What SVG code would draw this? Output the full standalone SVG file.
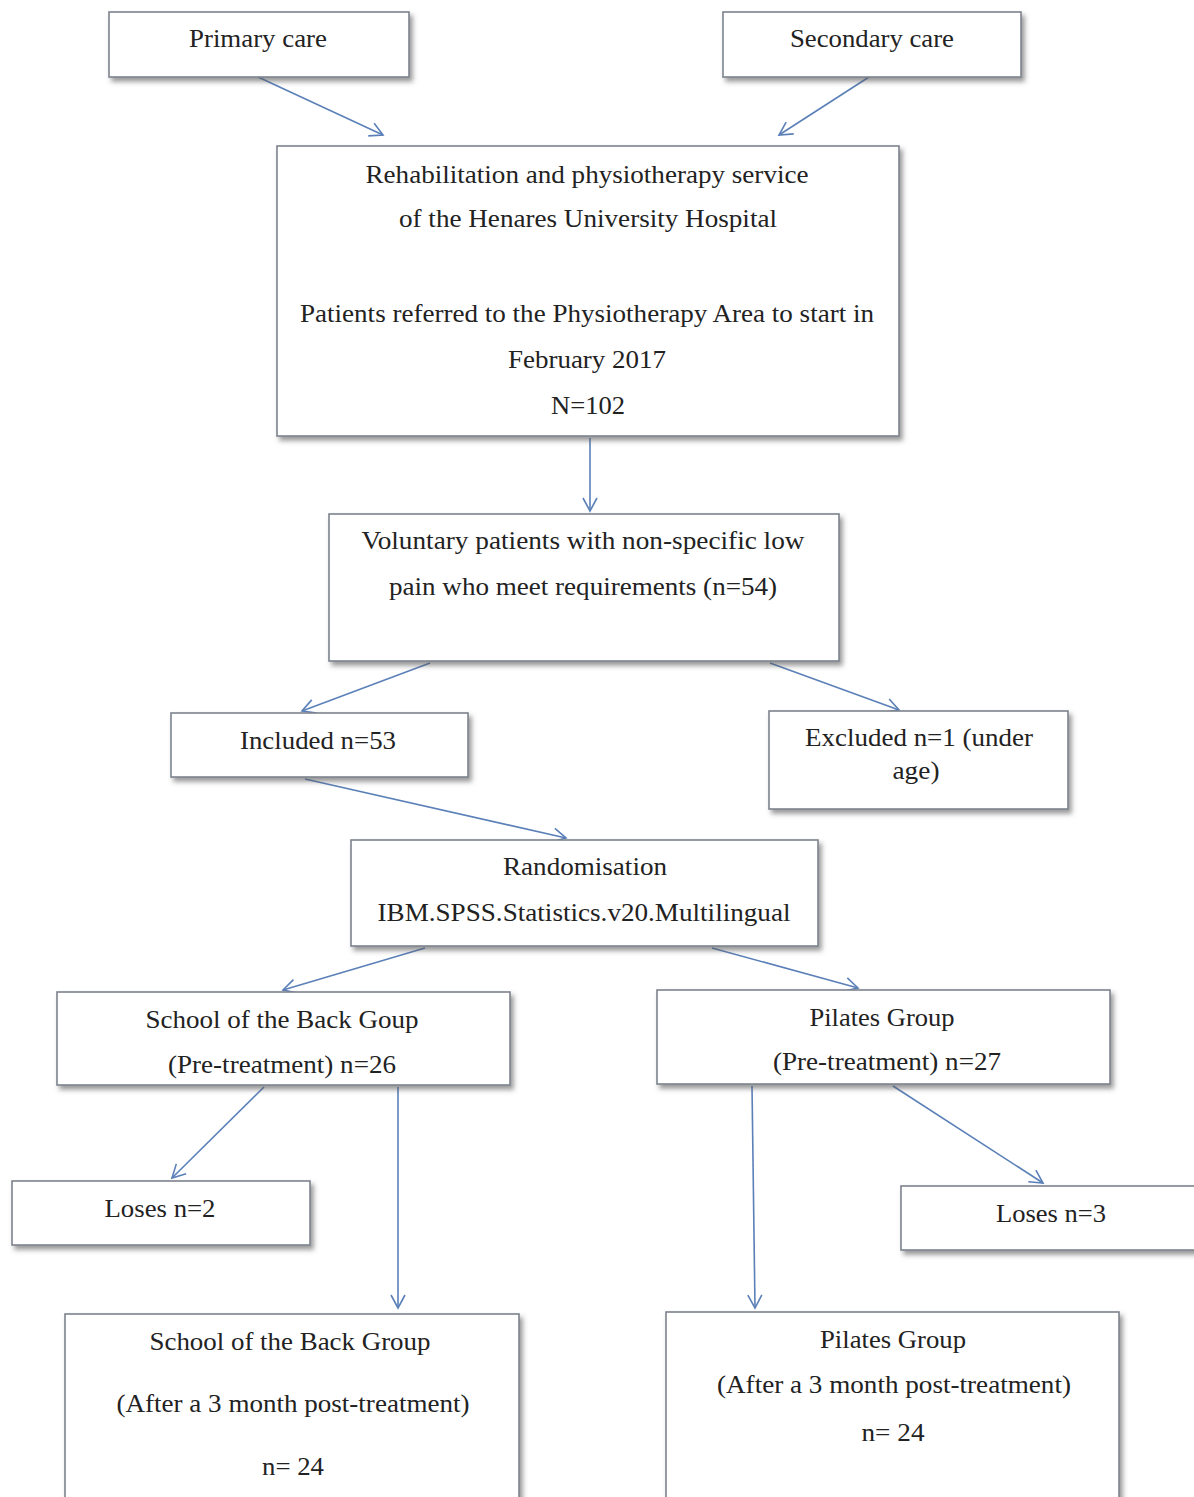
<svg xmlns="http://www.w3.org/2000/svg" width="1194" height="1497" viewBox="0 0 1194 1497">
<defs>
<filter id="sh" x="-5%" y="-5%" width="115%" height="125%">
<feDropShadow dx="3" dy="4" stdDeviation="2.5" flood-color="#555" flood-opacity="0.6"/>
</filter>
<marker id="ah" viewBox="0 0 16 16" refX="14" refY="8" markerWidth="16" markerHeight="16" markerUnits="userSpaceOnUse" orient="auto">
<path d="M1,1 L14,8 L1,15" fill="none" stroke="#5b80b8" stroke-width="1.6"/>
</marker>
</defs>
<style>
.box{fill:#ffffff;stroke:#7d848e;stroke-width:1.6;filter:url(#sh)}
.t{font-family:'Liberation Serif','Times New Roman','DejaVu Serif',serif;font-size:26px;fill:#222;text-anchor:middle}
.c{stroke:#5b80b8;stroke-width:1.6;fill:none;marker-end:url(#ah)}
</style>
<rect width="1194" height="1497" fill="#ffffff"/>

<g id="connectors">
<line class="c" x1="258" y1="77" x2="383" y2="135"/>
<line class="c" x1="869" y1="77" x2="779" y2="135"/>
<line class="c" x1="590" y1="438" x2="590" y2="511"/>
<line class="c" x1="430" y1="663" x2="302" y2="711"/>
<line class="c" x1="770" y1="663" x2="899" y2="710"/>
<line class="c" x1="305" y1="779" x2="566" y2="838"/>
<line class="c" x1="425" y1="948" x2="283" y2="990"/>
<line class="c" x1="712" y1="948" x2="858" y2="988"/>
<line class="c" x1="264" y1="1087" x2="172" y2="1178"/>
<line class="c" x1="398" y1="1087" x2="398" y2="1308"/>
<line class="c" x1="752" y1="1086" x2="755" y2="1308"/>
<line class="c" x1="893" y1="1086" x2="1043" y2="1183"/>
</g>

<g id="primary">
<rect class="box" x="109" y="12" width="300" height="65"/>
<text class="t" x="258" y="47" textLength="138" lengthAdjust="spacingAndGlyphs">Primary care</text>
</g>
<g id="secondary">
<rect class="box" x="723" y="12" width="298" height="65"/>
<text class="t" x="872" y="47" textLength="164" lengthAdjust="spacingAndGlyphs">Secondary care</text>
</g>
<g id="rehab">
<rect class="box" x="277" y="146" width="622" height="290"/>
<text class="t" x="587" y="183" textLength="443" lengthAdjust="spacingAndGlyphs">Rehabilitation and physiotherapy service</text>
<text class="t" x="588" y="227" textLength="378" lengthAdjust="spacingAndGlyphs">of the Henares University Hospital</text>
<text class="t" x="587" y="322" textLength="574" lengthAdjust="spacingAndGlyphs">Patients referred to the Physiotherapy Area to start in</text>
<text class="t" x="587" y="368" textLength="158" lengthAdjust="spacingAndGlyphs">February 2017</text>
<text class="t" x="588" y="414" textLength="74" lengthAdjust="spacingAndGlyphs">N=102</text>
</g>
<g id="voluntary">
<rect class="box" x="329" y="514" width="510" height="147"/>
<text class="t" x="583" y="549" textLength="443" lengthAdjust="spacingAndGlyphs">Voluntary patients with non-specific low</text>
<text class="t" x="583" y="595" textLength="388" lengthAdjust="spacingAndGlyphs">pain who meet requirements (n=54)</text>
</g>
<g id="included">
<rect class="box" x="171" y="713" width="297" height="64"/>
<text class="t" x="318" y="749" textLength="156" lengthAdjust="spacingAndGlyphs">Included n=53</text>
</g>
<g id="excluded">
<rect class="box" x="769" y="711" width="299" height="98"/>
<text class="t" x="919" y="746" textLength="228" lengthAdjust="spacingAndGlyphs">Excluded n=1 (under</text>
<text class="t" x="916" y="779" textLength="47" lengthAdjust="spacingAndGlyphs">age)</text>
</g>
<g id="randomisation">
<rect class="box" x="351" y="840" width="467" height="106"/>
<text class="t" x="585" y="875" textLength="164" lengthAdjust="spacingAndGlyphs">Randomisation</text>
<text class="t" x="584" y="921" textLength="413" lengthAdjust="spacingAndGlyphs">IBM.SPSS.Statistics.v20.Multilingual</text>
</g>
<g id="school-pre">
<rect class="box" x="57" y="992" width="453" height="93"/>
<text class="t" x="282" y="1028" textLength="273" lengthAdjust="spacingAndGlyphs">School of the Back Goup</text>
<text class="t" x="282" y="1073" textLength="228" lengthAdjust="spacingAndGlyphs">(Pre-treatment) n=26</text>
</g>
<g id="pilates-pre">
<rect class="box" x="657" y="990" width="453" height="94"/>
<text class="t" x="882" y="1026" textLength="145" lengthAdjust="spacingAndGlyphs">Pilates Group</text>
<text class="t" x="887" y="1070" textLength="228" lengthAdjust="spacingAndGlyphs">(Pre-treatment) n=27</text>
</g>
<g id="loses2">
<rect class="box" x="12" y="1181" width="298" height="64"/>
<text class="t" x="160" y="1217" textLength="111" lengthAdjust="spacingAndGlyphs">Loses n=2</text>
</g>
<g id="loses3">
<rect class="box" x="901" y="1186" width="300" height="64"/>
<text class="t" x="1051" y="1222" textLength="110" lengthAdjust="spacingAndGlyphs">Loses n=3</text>
</g>
<g id="school-post">
<rect class="box" x="65" y="1314" width="454" height="200"/>
<text class="t" x="290" y="1350" textLength="281" lengthAdjust="spacingAndGlyphs">School of the Back Group</text>
<text class="t" x="293" y="1412" textLength="353" lengthAdjust="spacingAndGlyphs">(After a 3 month post-treatment)</text>
<text class="t" x="293" y="1475" textLength="62" lengthAdjust="spacingAndGlyphs">n= 24</text>
</g>
<g id="pilates-post">
<rect class="box" x="666" y="1312" width="453" height="200"/>
<text class="t" x="893" y="1348" textLength="146" lengthAdjust="spacingAndGlyphs">Pilates Group</text>
<text class="t" x="894" y="1393" textLength="354" lengthAdjust="spacingAndGlyphs">(After a 3 month post-treatment)</text>
<text class="t" x="893" y="1441" textLength="63" lengthAdjust="spacingAndGlyphs">n= 24</text>
</g>
</svg>
